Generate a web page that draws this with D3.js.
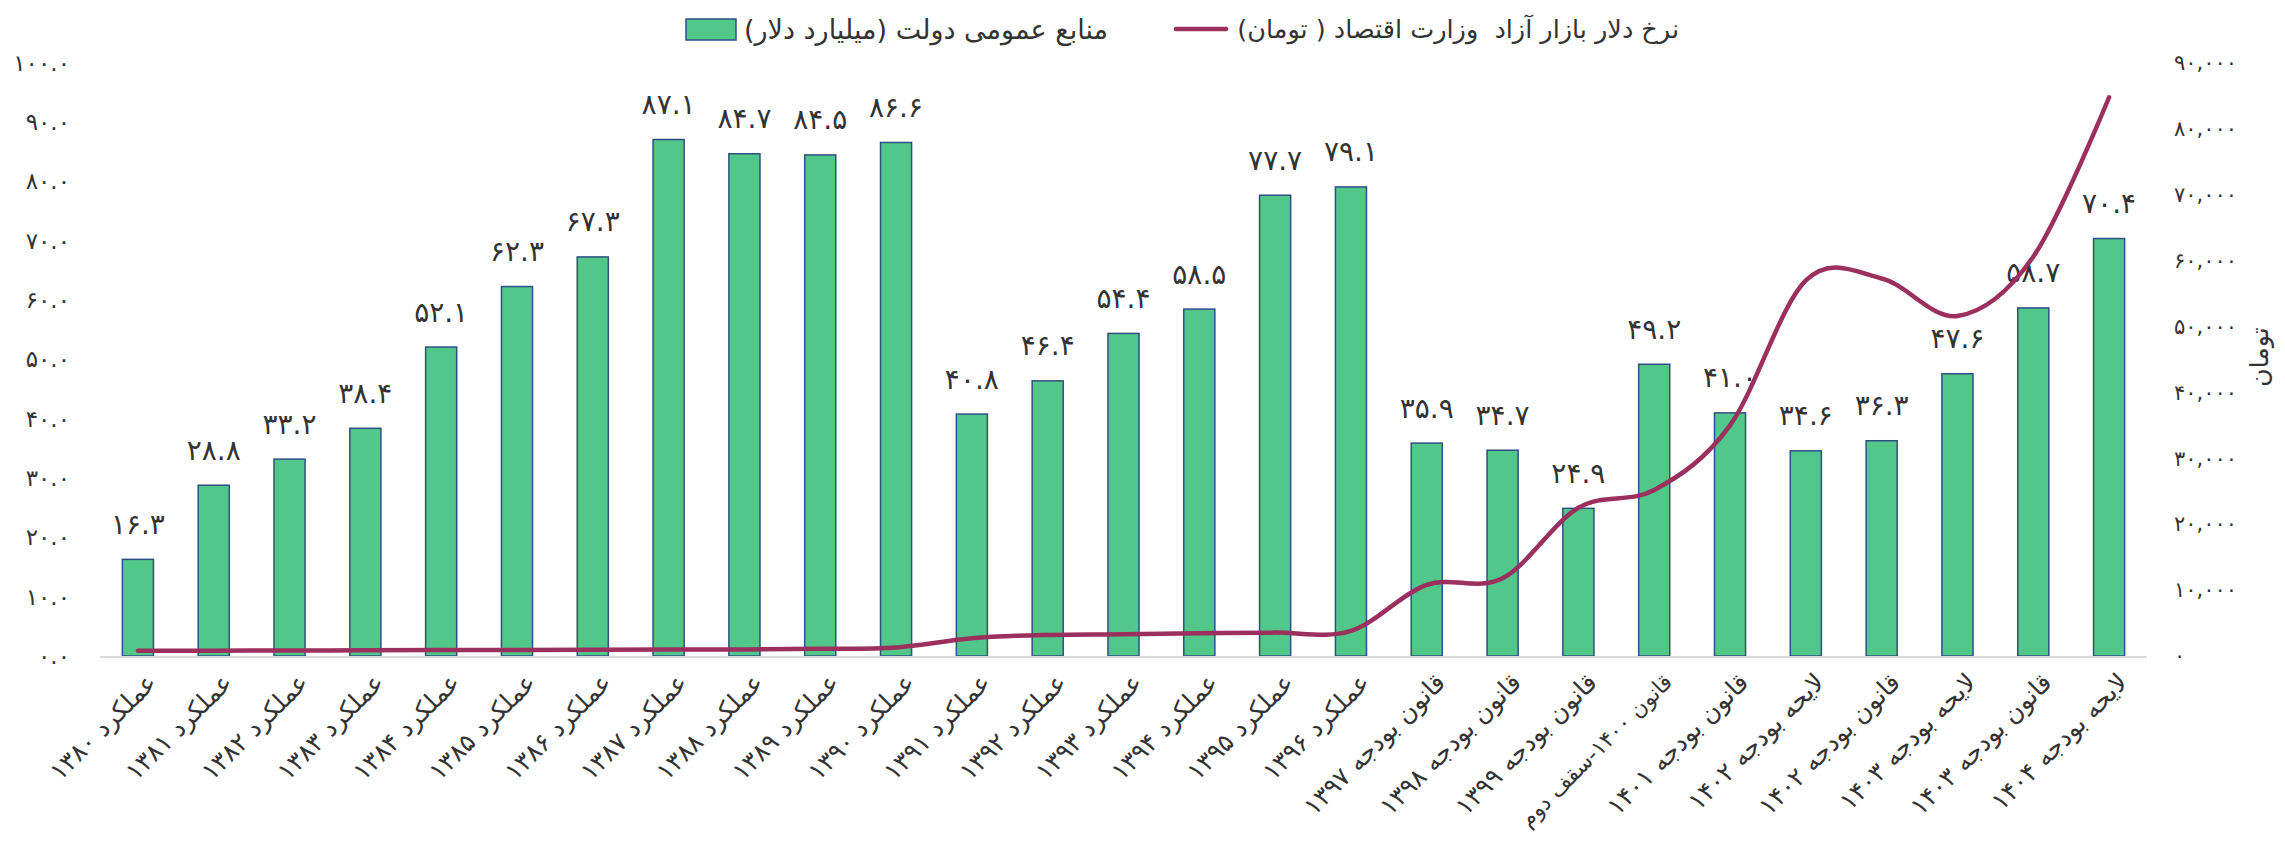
<!DOCTYPE html>
<html>
<head>
<meta charset="utf-8">
<script src="https://cdn.jsdelivr.net/npm/d3@7"></script>
<style>
  body { margin: 0; background: #fff; }
  text { font-family: "DejaVu Sans", sans-serif; fill: #333; }
</style>
</head>
<body>
<div id="chart"></div>
<script>
// categories (x axis)
const categories = [
  'عملکرد ۱۳۸۰', 'عملکرد ۱۳۸۱', 'عملکرد ۱۳۸۲', 'عملکرد ۱۳۸۳', 'عملکرد ۱۳۸۴',
  'عملکرد ۱۳۸۵', 'عملکرد ۱۳۸۶', 'عملکرد ۱۳۸۷', 'عملکرد ۱۳۸۸', 'عملکرد ۱۳۸۹',
  'عملکرد ۱۳۹۰', 'عملکرد ۱۳۹۱', 'عملکرد ۱۳۹۲', 'عملکرد ۱۳۹۳', 'عملکرد ۱۳۹۴',
  'عملکرد ۱۳۹۵', 'عملکرد ۱۳۹۶', 'قانون بودجه ۱۳۹۷', 'قانون بودجه ۱۳۹۸',
  'قانون بودجه ۱۳۹۹', 'قانون ۱۴۰۰-سقف دوم', 'قانون بودجه ۱۴۰۱', 'لایحه بودجه ۱۴۰۲',
  'قانون بودجه ۱۴۰۲', 'لایحه بودجه ۱۴۰۳', 'قانون بودجه ۱۴۰۳', 'لایحه بودجه ۱۴۰۴'
];

// منابع عمومی دولت (میلیارد دلار)
const budget = [
  16.3, 28.8, 33.2, 38.4, 52.1, 62.3, 67.3, 87.1, 84.7, 84.5,
  86.6, 40.8, 46.4, 54.4, 58.5, 77.7, 79.1, 35.9, 34.7, 24.9,
  49.2, 41.0, 34.6, 36.3, 47.6, 58.7, 70.4
];

// نرخ دلار بازار آزاد (تومان)
const dollarRate = [
  800, 810, 830, 870, 900, 920, 940, 970, 1000, 1100,
  1300, 2700, 3200, 3300, 3450, 3550, 3800, 10800, 11800, 22500,
  25200, 35000, 57000, 57300, 51600, 60600, 84800
];

const leftTicks = [0, 10, 20, 30, 40, 50, 60, 70, 80, 90, 100];
const rightTicks = [0, 10000, 20000, 30000, 40000, 50000, 60000, 70000, 80000, 90000];

const barLegend = 'منابع عمومی دولت (میلیارد دلار)';
const lineLegend = 'نرخ دلار بازار آزاد  وزارت اقتصاد ( تومان)';
const rightTitle = 'تومان';

const faDigits = '۰۱۲۳۴۵۶۷۸۹';
const fa = s => String(s).replace(/[0-9]/g, d => faDigits[+d]);

const width = 2285;
const height = 843;
const margin = { top: 63, right: 138, bottom: 187, left: 100 };
const innerW = width - margin.left - margin.right;
const innerH = height - margin.top - margin.bottom;

const barFill = '#52c78a';
const barStroke = '#2f4f85';
const lineColor = '#9b2f5e';

const svg = d3.select('#chart').append('svg')
    .attr('width', width)
    .attr('height', height);

const g = svg.append('g')
    .attr('transform', `translate(${margin.left}, ${margin.top})`);

const x = d3.scaleBand().domain(categories).range([0, innerW]).paddingInner(0.59).paddingOuter(0.295);
const yL = d3.scaleLinear().domain([0, 100]).range([innerH, 0]);
const yR = d3.scaleLinear().domain([0, 90000]).range([innerH, 0]);

// left axis
const axisL = d3.axisLeft(yL).tickValues(leftTicks).tickSize(0).tickPadding(30)
    .tickFormat(d => fa(d3.format('.1f')(d)));
g.append('g').attr('class', 'y axis').call(axisL)
  .call(s => s.select('.domain').remove())
  .selectAll('text').style('font-size', '23px').style('fill', '#333');

// right axis
const axisR = d3.axisRight(yR).tickValues(rightTicks).tickSize(0).tickPadding(27)
    .tickFormat(d => fa(d3.format(',')(d)));
g.append('g').attr('class', 'y2 axis')
    .attr('transform', `translate(${innerW}, 0)`)
    .call(axisR)
  .call(s => s.select('.domain').remove())
  .selectAll('text').style('font-size', '21px').style('fill', '#333');

// right axis title
svg.append('text')
    .attr('transform', `translate(2259, 357) rotate(-90)`)
    .attr('text-anchor', 'middle')
    .attr('dominant-baseline', 'central')
    .style('font-size', '25px')
    .text(rightTitle);

// bars
g.selectAll('.bar').data(budget).join('rect')
    .attr('class', 'bar')
    .attr('x', (d, i) => x(categories[i]))
    .attr('width', x.bandwidth())
    .attr('y', d => yL(d))
    .attr('height', d => innerH - yL(d))
    .attr('fill', barFill)
    .attr('stroke', barStroke)
    .attr('stroke-width', 1.5);

// baseline
g.append('line')
    .attr('x1', 0).attr('x2', innerW)
    .attr('y1', innerH + 1).attr('y2', innerH + 1)
    .attr('stroke', '#d9d9d9')
    .attr('stroke-width', 2);

// x labels (shrink the long ones so they stay inside the picture)
const maxLabelLen = 205;
g.append('g').selectAll('text').data(categories).join('text')
    .attr('transform', d => `translate(${x(d) + x.bandwidth() / 2 + 14}, ${innerH + 22}) rotate(-45)`)
    .attr('text-anchor', 'end')
    .attr('dominant-baseline', 'central')
    .style('font-size', '25px')
    .text(d => d)
    .each(function fit() {
      const len = this.getComputedTextLength();
      if (len > maxLabelLen) d3.select(this).style('font-size', `${25 * maxLabelLen / len}px`);
    });

// value labels
g.append('g').selectAll('text').data(budget).join('text')
    .attr('x', (d, i) => x(categories[i]) + x.bandwidth() / 2)
    .attr('y', d => yL(d) - 35)
    .attr('text-anchor', 'middle')
    .attr('dominant-baseline', 'central')
    .style('font-size', '28px')
    .text(d => fa(d3.format('.1f')(d)));

// line
const line = d3.line()
    .curve(d3.curveCardinal.tension(0))
    .x((d, i) => x(categories[i]) + x.bandwidth() / 2)
    .y(d => yR(d));

g.append('path')
    .datum(dollarRate)
    .attr('fill', 'none')
    .attr('stroke', lineColor)
    .attr('stroke-width', 4.5)
    .attr('stroke-linecap', 'round')
    .attr('stroke-linejoin', 'round')
    .attr('d', line);

// legend
const legend = svg.append('g').attr('class', 'legend');
legend.append('rect')
    .attr('x', 686).attr('y', 19)
    .attr('width', 50).attr('height', 21)
    .attr('fill', barFill)
    .attr('stroke', barStroke)
    .attr('stroke-width', 1.5);
legend.append('text')
    .attr('x', 1108).attr('y', 29)
    .attr('text-anchor', 'end')
    .attr('dominant-baseline', 'central')
    .style('font-size', '27px')
    .text(barLegend);
legend.append('line')
    .attr('x1', 1176).attr('x2', 1226)
    .attr('y1', 29).attr('y2', 29)
    .attr('stroke', lineColor)
    .attr('stroke-width', 4.5)
    .attr('stroke-linecap', 'round');
legend.append('text')
    .attr('x', 1679).attr('y', 29)
    .attr('text-anchor', 'end')
    .attr('dominant-baseline', 'central')
    .style('font-size', '25.5px')
    .style('white-space', 'pre')
    .text(lineLegend);
</script>
</body>
</html>
